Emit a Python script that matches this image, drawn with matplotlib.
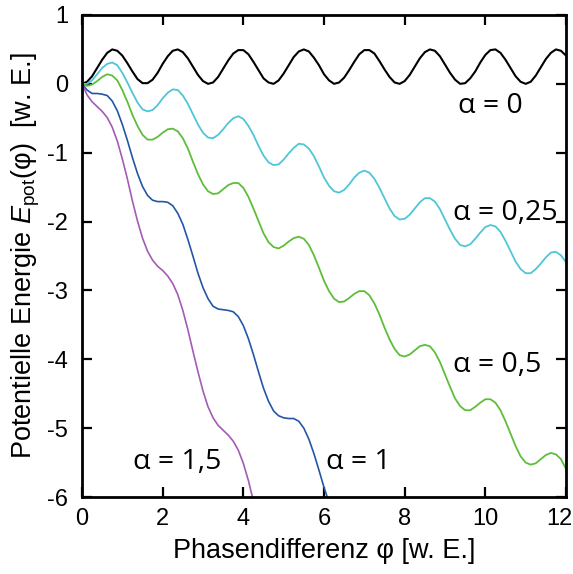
import numpy as np
import matplotlib
matplotlib.use('Agg')
import matplotlib.pyplot as plt
from matplotlib.transforms import ScaledTranslation

plt.rcParams['font.family'] = ['Liberation Sans', 'DejaVu Sans']
plt.rcParams['mathtext.fontset'] = 'custom'
plt.rcParams['mathtext.rm'] = 'Liberation Sans'
plt.rcParams['mathtext.it'] = 'Liberation Sans:italic'
plt.rcParams['axes.unicode_minus'] = False

# phase step of the sampled curves
step = 0.125

e_a0 = [0, 3, 11, 23, 35, 45, 50, 48, 41, 30, 18, 7, 1, 1, 6, 16, 29, 40, 48, 50,
        46, 37, 25, 13, 4, 0, 2, 10, 22, 34, 44, 49, 49, 43, 32, 20, 8, 2, 0, 5,
        15, 27, 39, 47, 50, 47, 38, 27, 14, 5, 0, 2, 9, 20, 32, 43, 49, 49, 44,
        33, 21, 10, 2, 0, 4, 13, 25, 37, 46, 50, 48, 40, 28, 16, 6, 0, 1, 8, 18,
        31, 42, 49, 50, 45, 35, 23, 11, 3, 0, 3, 12, 24, 36, 45, 50, 48, 41]
e_a025 = [0, 0, 5, 14, 23, 29, 31, 27, 16, 2, -13, -27, -37, -40, -38, -31, -21, -13, -8, -9,
          -17, -29, -44, -59, -71, -78, -79, -74, -66, -57, -50, -47, -51, -61, -74, -90, -104,
          -114, -118, -117, -110, -101, -93, -87, -88, -94, -105, -120, -136, -148, -156, -158,
          -154, -146, -136, -129, -126, -129, -138, -151, -166, -181, -192, -197, -196, -190,
          -181, -172, -166, -166, -171, -182, -197, -212, -225, -234, -236, -233, -225, -216,
          -208, -205, -207, -215, -228, -243, -258, -269, -275, -275, -269, -261, -252, -245,
          -244, -249, -259]
e_a05 = [0, -3, -1, 4, 10, 14, 12, 5, -9, -26, -45, -61, -74, -81, -81, -77, -71, -66, -65,
         -69, -79, -94, -113, -131, -146, -156, -160, -159, -153, -147, -144, -144, -151, -164,
         -181, -199, -217, -230, -237, -239, -235, -229, -224, -222, -225, -234, -249, -267,
         -286, -301, -312, -317, -316, -311, -305, -301, -301, -307, -319, -335, -354, -371,
         -385, -394, -396, -393, -387, -381, -379, -381, -390, -404, -422, -440, -457, -468,
         -474, -474, -469, -463, -458, -458, -463, -474, -490, -508, -526, -541, -550, -553,
         -551, -545, -539, -536, -538, -545, -559]
e_a1 = [0, -9, -14, -14, -15, -17, -25, -39, -59, -82, -107, -130, -149, -162, -169, -171,
        -171, -172, -177, -188, -204, -226, -250, -275, -296, -312, -323, -327, -328, -329,
        -331, -338, -351, -370, -393, -418, -442, -461, -475, -482, -485, -486, -486, -490,
        -500, -516, -537, -561, -586, -608]
e_a15 = [0, -16, -26, -33, -40, -49, -63, -83, -109, -138, -170, -199, -224, -243, -256,
         -265, -271, -279, -290, -306, -329, -357, -388, -418, -446, -469, -485, -496, -503,
         -510, -519, -532, -551, -576, -606]

series = [e_a0, e_a025, e_a05, e_a1, e_a15]
labels = ['α = 0', 'α = 0,25', 'α = 0,5', 'α = 1', 'α = 1,5']
colors = ['black', '#4fc6d6', '#5fbd3a', '#2456a8', '#a55bb5']
widths = [1.5, 1.3, 1.3, 1.2, 1.2]
lab_x = [10.12, 10.5, 10.3, 6.85, 2.36]
lab_y = [-0.32, -1.87, -4.08, -5.49, -5.49]

fig = plt.figure(figsize=(5.73, 5.74), dpi=100)
ax = fig.add_axes([0.1431, 0.1341, 0.8447, 0.8398])
for e, c, w in zip(series, colors, widths):
    phi = np.arange(len(e)) * step
    ax.plot(phi, np.array(e) / 100, color=c, lw=w)

for x, y, t in zip(lab_x, lab_y, labels):
    ax.text(x, y, t, ha='center', va='center', fontsize=20.5, family='Open Sans')

ax.set_xlim(0, 12)
ax.set_ylim(-6, 1)
ax.set_xticks([0, 2, 4, 6, 8, 10, 12])
ax.set_yticks([-6, -5, -4, -3, -2, -1, 0, 1])
ax.tick_params(direction='in', length=7, width=1.6, labelsize=17,
               top=True, right=True)
ax.tick_params(axis='x', pad=8)
ax.tick_params(axis='y', pad=10)
for s in ax.spines.values():
    s.set_linewidth(2)
ax.set_xlabel('Phasendifferenz φ [w. E.]', fontsize=19.5, labelpad=6)
ax.set_ylabel('Potentielle Energie $E_{\\mathrm{pot}}$(φ)  [w. E.]', fontsize=19.5, labelpad=4)

# last x label sits a bit left, as in the original
last = ax.get_xticklabels()[-1]
last.set_transform(last.get_transform() + ScaledTranslation(-0.07, 0, fig.dpi_scale_trans))

fig.savefig('out.png')
